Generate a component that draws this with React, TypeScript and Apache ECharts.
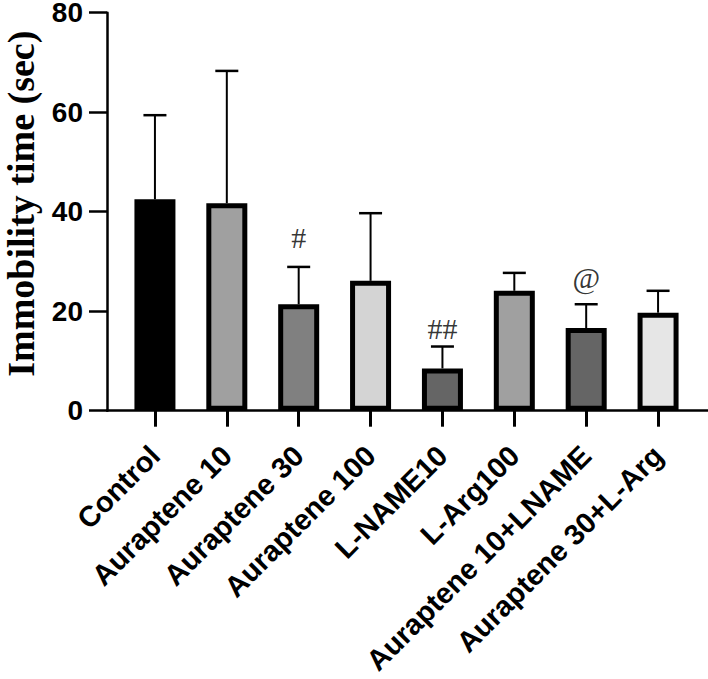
import React, { useEffect, useRef } from "react";
import * as echarts from "echarts";

const categories = [
  "Control",
  "Auraptene 10",
  "Auraptene 30",
  "Auraptene 100",
  "L-NAME10",
  "L-Arg100",
  "Auraptene 10+LNAME",
  "Auraptene 30+L-Arg",
];
const means = [42.5, 41.7, 21.4, 26.1, 8.5, 24.1, 16.6, 19.7];
const upperErr = [59.4, 68.3, 28.9, 39.7, 12.9, 27.7, 21.4, 24.1];
const fills = ["#000000", "#a0a0a0", "#808080", "#d4d4d4", "#656565", "#a0a0a0", "#656565", "#e6e6e6"];
const yTicks = [0, 20, 40, 60, 80];
const annoIdx = [2, 4, 6];
const annoVal = [34.9, 16.6, 26.8];
const annoText = ["#", "##", "@"];

const SANS = "'Liberation Sans', Arial, Helvetica, sans-serif";
const SERIF = "'Liberation Serif', 'Times New Roman', serif";

export default function App() {
  const ref = useRef<HTMLDivElement>(null);
  useEffect(() => {
    if (!ref.current) return;
    const chart = echarts.init(ref.current, undefined, { renderer: "svg" });
    const option: any = {
      animation: false,
      backgroundColor: "#ffffff",
      grid: [
        { left: 119, right: 14, top: 12.7, bottom: 268.3, outerBoundsMode: "none", containLabel: false },
        { left: 107, right: 0, top: 12.7, bottom: 268.3, outerBoundsMode: "none", containLabel: false },
      ],
      xAxis: [
        {
          type: "category",
          gridIndex: 0,
          data: categories,
          axisLine: { show: false },
          axisTick: { show: true, alignWithLabel: true, length: 16, lineStyle: { color: "#000", width: 3 } },
          axisLabel: {
            interval: 0,
            rotate: 45,
            margin: 40,
            align: "right",
            verticalAlign: "middle",
            fontFamily: SANS,
            fontWeight: "bold",
            fontSize: 29,
            lineHeight: 26,
            color: "#000",
          },
        },
        {
          type: "value",
          gridIndex: 1,
          min: 0,
          max: 1,
          axisLine: { show: true, lineStyle: { color: "#000", width: 2.5 } },
          axisTick: { show: false },
          axisLabel: { show: false },
          splitLine: { show: false },
        },
      ],
      yAxis: [
        {
          type: "value",
          gridIndex: 0,
          min: yTicks[0],
          max: yTicks[yTicks.length - 1],
          interval: 20,
          offset: 12,
          axisLine: { show: true, lineStyle: { color: "#000", width: 2.5 } },
          axisTick: { show: true, length: 18, lineStyle: { color: "#000", width: 2.5 } },
          splitLine: { show: false },
          axisLabel: {
            margin: 24,
            fontFamily: SANS,
            fontWeight: "bold",
            fontSize: 28,
            lineHeight: 22,
            color: "#000",
          },
          name: "Immobility time (sec)",
          nameLocation: "middle",
          nameRotate: 90,
          nameGap: 67,
          nameTextStyle: {
            fontFamily: SERIF,
            fontWeight: "bold",
            fontSize: 38,
            color: "#000",
            padding: [0, 0, 0, 16],
          },
        },
        {
          type: "value",
          gridIndex: 1,
          show: false,
          min: 0,
          max: 80,
        },
      ],
      series: [
        {
          type: "bar",
          xAxisIndex: 0,
          yAxisIndex: 0,
          barWidth: 41,
          data: means.map((v, i) => ({
            value: v,
            itemStyle: { color: fills[i], borderColor: "#000", borderWidth: 5 },
          })),
          z: 2,
        },
        {
          type: "custom",
          xAxisIndex: 0,
          yAxisIndex: 0,
          z: 3,
          data: categories.map((c, i) => [i, means[i], upperErr[i]]),
          encode: { x: 0, y: [1, 2] },
          renderItem: (params: any, api: any) => {
            const i = api.value(0);
            const p0 = api.coord([i, api.value(1)]);
            const p1 = api.coord([i, api.value(2)]);
            const half = 11.5;
            return {
              type: "group",
              children: [
                {
                  type: "line",
                  shape: { x1: p0[0], y1: p0[1], x2: p1[0], y2: p1[1] },
                  style: { stroke: "#000", lineWidth: 2 },
                },
                {
                  type: "line",
                  shape: { x1: p1[0] - half, y1: p1[1], x2: p1[0] + half, y2: p1[1] },
                  style: { stroke: "#000", lineWidth: 2.5 },
                },
              ],
            };
          },
        },
        {
          type: "scatter",
          xAxisIndex: 0,
          yAxisIndex: 0,
          symbolSize: 0,
          z: 4,
          data: annoIdx.map((ix, k) => ({ value: [ix, annoVal[k]], name: annoText[k] })),
          label: {
            show: true,
            position: "inside",
            formatter: (p: any) => p.name,
            fontFamily: SERIF,
            fontSize: 30,
            color: "#000",
          },
        },
      ],
    };
    chart.setOption(option);
    return () => chart.dispose();
  }, []);
  return (
    <div
      ref={ref}
      style={{ position: "fixed", left: 0, top: 0, width: 708, height: 679, background: "#fff" }}
    />
  );
}
